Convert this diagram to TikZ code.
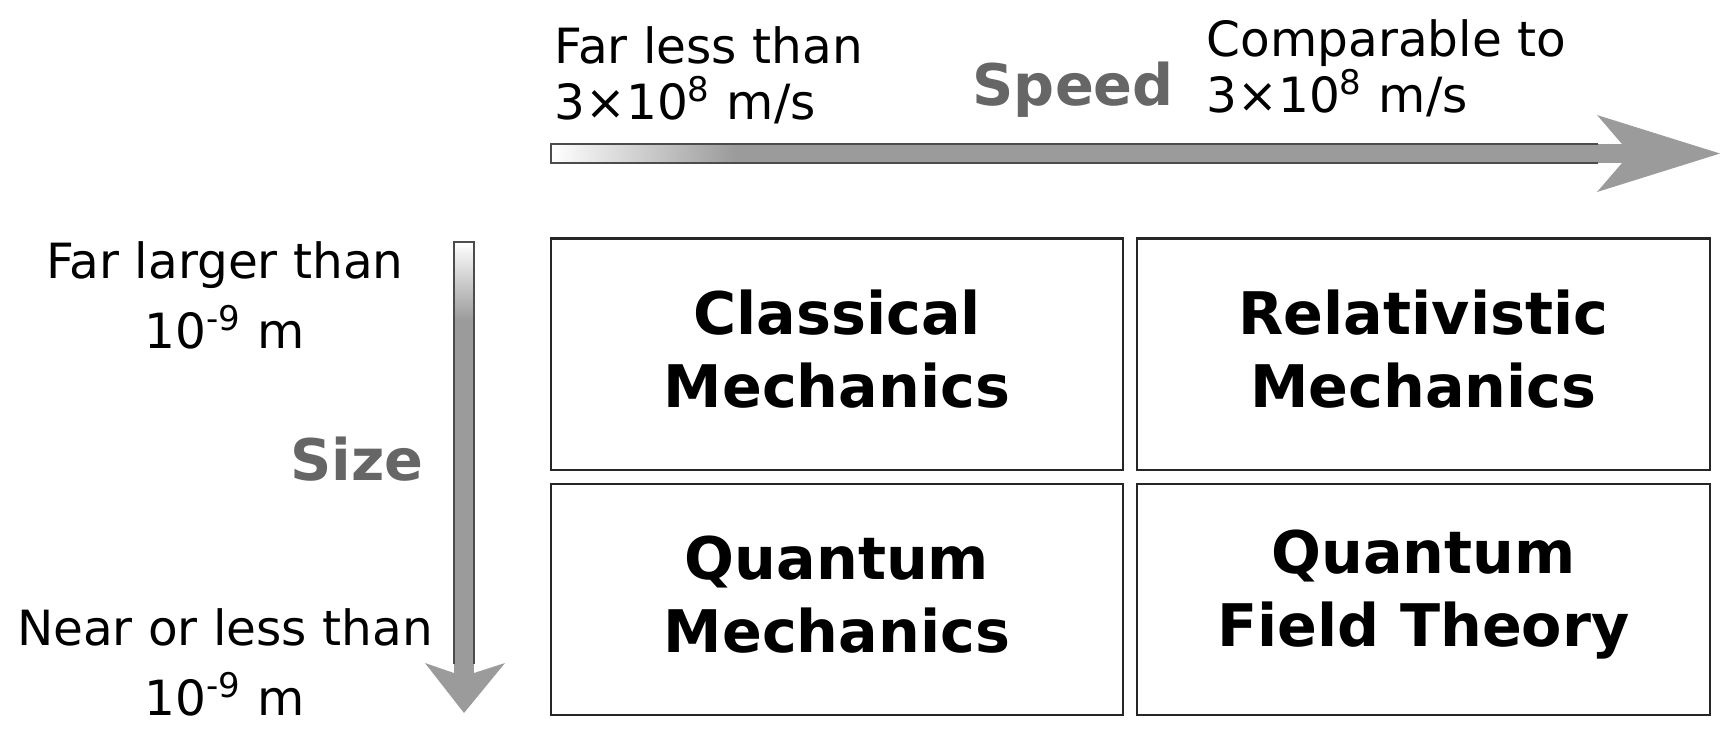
\documentclass[tikz,border=0pt]{standalone}
\usepackage{fontspec}
\setmainfont{DejaVu Sans}
\usepackage{tikz}
\usetikzlibrary{positioning}
\definecolor{arrowgray}{HTML}{9B9B9B}
\definecolor{titlegray}{HTML}{666666}
\tikzstyle{theory} = [rectangle, draw=black!85, line width=0.6pt, inner sep=0pt,
    minimum width=5.72cm, minimum height=2.31cm]
\tikzstyle{title} = [inner sep=0pt, align=center, yshift=0.05cm,
    font=\fontsize{16.7}{20.8}\selectfont\bfseries]
\tikzstyle{speedtext} = [inner sep=0pt, align=left, font=\fontsize{13.8}{15.9}\selectfont]
\tikzstyle{sizetext} = [inner sep=0pt, align=center, font=\fontsize{13.8}{19.9}\selectfont]
\tikzstyle{axisname} = [inner sep=0pt, text=titlegray, font=\fontsize{16.3}{19}\selectfont\bfseries]
\tikzstyle{shaftline} = [draw=black!70, line width=0.55pt]

\begin{document}
\begin{tikzpicture}[x=0.01cm, y=-0.01cm]
        \useasboundingbox (0,0) rectangle (1735,747);

        % Nodes
        \node (classical) [theory] at (837,354) {};
        \node (relativistic) [theory, right=0.12cm of classical] {};
        \node (quantum) [theory, below=0.12cm of classical] {};
        \node (qft) [theory, right=0.12cm of quantum] {};

        \node (classicalname) [title] at (classical) {Classical\\Mechanics};
        \node (relativisticname) [title] at (relativistic) {Relativistic\\Mechanics};
        \node (quantumname) [title] at (quantum) {Quantum\\Mechanics};
        \node (qftname) [title] at (qft) {Quantum\\Field Theory};

        \node (slow) [speedtext, anchor=north west] at (554,26) {Far less than\\3×10\textsuperscript{8} m/s};
        \node (fast) [speedtext, anchor=north west] at (1206,19) {Comparable to\\3×10\textsuperscript{8} m/s};
        \node (speed) [axisname, anchor=base west] at (972,105) {Speed};

        \node (large) [sizetext, anchor=north] at (225,241) {Far larger than\\10\textsuperscript{-9} m};
        \node (size) [axisname, anchor=base west] at (290,480) {Size};
        \node (small) [sizetext, anchor=north] at (225,608) {Near or less than\\10\textsuperscript{-9} m};

        % Arrows
        \fill[arrowgray] (551,144) rectangle (1624,163);
        \shade[left color=white, right color=arrowgray] (551,144) rectangle (735,163);
        \draw[shaftline] (1598,144) -- (551,144) -- (551,163) -- (1598,163);
        \fill[arrowgray] (1597,115) -- (1720,153.5) -- (1597,192) -- (1622,163) -- (1622,144) -- cycle;

        \fill[arrowgray] (454,242) rectangle (474,675);
        \shade[top color=white, bottom color=arrowgray] (454,242) rectangle (474,320);
        \draw[shaftline] (454,664) -- (454,242) -- (474,242) -- (474,664);
        \fill[arrowgray] (425,663) -- (464,713) -- (505,663) -- (474,673) -- (454,673) -- cycle;
    \end{tikzpicture}
\end{document}
